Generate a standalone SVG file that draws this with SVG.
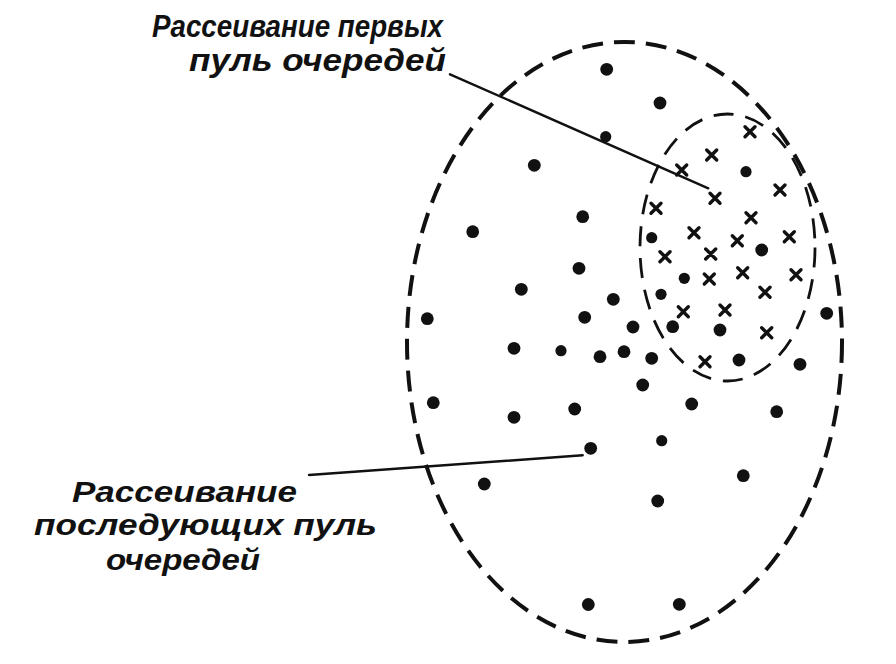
<svg xmlns="http://www.w3.org/2000/svg" width="896" height="664" viewBox="0 0 896 664">
<style>
.bg{fill:#ffffff}
.outer{fill:none;stroke:#111;stroke-width:4;stroke-dasharray:21 11;stroke-linecap:butt}
.inner{fill:none;stroke:#111;stroke-width:2.8;stroke-dasharray:20 12}
.lead{fill:none;stroke:#111;stroke-width:2.4;stroke-linecap:round}
.dot{fill:#111}
.x{fill:none;stroke:#111;stroke-width:3.4;stroke-linecap:round}
.lbl{font-family:"Liberation Sans","DejaVu Sans",sans-serif;font-style:italic;font-weight:bold;font-size:31px;fill:#111}
.lbl2{font-size:29px}
</style>
<defs>
<circle id="d" r="6.4" class="dot"/>
<circle id="ds" r="5.6" class="dot"/>
<path id="c" d="M-5,-5 L5,5 M5,-5 L-5,5" class="x"/>
</defs>
<rect class="bg" x="0" y="0" width="896" height="664"/>

<g id="outer-dispersion">
<ellipse class="outer" cx="624.5" cy="342" rx="217.5" ry="300"/>
<g id="outer-hits">
<use href="#d" x="606.7" y="69.3"/>
<use href="#d" x="660" y="103"/>
<use href="#ds" x="605.7" y="136.7"/>
<use href="#d" x="534.3" y="165.3"/>
<use href="#d" x="582.7" y="216.7"/>
<use href="#d" x="472.7" y="231.7"/>
<use href="#d" x="579" y="268.3"/>
<use href="#d" x="521.3" y="289.3"/>
<use href="#d" x="613.3" y="299.3"/>
<use href="#d" x="427.3" y="318.7"/>
<use href="#d" x="584.7" y="317.3"/>
<use href="#d" x="633" y="327"/>
<use href="#d" x="514" y="348.3"/>
<use href="#ds" x="561" y="350.7"/>
<use href="#d" x="600" y="356.7"/>
<use href="#d" x="624" y="351.7"/>
<use href="#d" x="651.7" y="358.3"/>
<use href="#d" x="642.7" y="385"/>
<use href="#d" x="433.3" y="402.7"/>
<use href="#d" x="514" y="417.3"/>
<use href="#d" x="574.7" y="409"/>
<use href="#d" x="691.7" y="404"/>
<use href="#d" x="776.7" y="411.7"/>
<use href="#d" x="590.7" y="448.3"/>
<use href="#ds" x="661.7" y="440.7"/>
<use href="#d" x="743.3" y="475.7"/>
<use href="#d" x="484.3" y="484"/>
<use href="#d" x="657.7" y="501"/>
<use href="#d" x="588.3" y="604.5"/>
<use href="#d" x="679.3" y="604.3"/>
<use href="#d" x="826.7" y="313.3"/>
<use href="#d" x="800" y="364.3"/>
<use href="#d" x="739" y="360"/>
<use href="#d" x="720" y="330"/>
<use href="#d" x="672.7" y="326.7"/>
</g>
</g>

<g id="inner-dispersion">
<ellipse class="inner" cx="727.5" cy="247.5" rx="87.5" ry="133.5"/>
<g id="inner-hits">
<use href="#c" x="750" y="131.7"/>
<use href="#c" x="711.7" y="155"/>
<use href="#c" x="681.7" y="170"/>
<use href="#ds" x="746" y="171.7"/>
<use href="#c" x="780" y="190"/>
<use href="#c" x="715" y="198.3"/>
<use href="#c" x="656" y="208.3"/>
<use href="#c" x="751" y="217.7"/>
<use href="#c" x="694" y="232.7"/>
<use href="#ds" x="651.7" y="237.7"/>
<use href="#c" x="737.3" y="240.7"/>
<use href="#c" x="789.3" y="236.7"/>
<use href="#d" x="761.7" y="250"/>
<use href="#c" x="665" y="256.7"/>
<use href="#c" x="710.7" y="254"/>
<use href="#ds" x="684.3" y="278.3"/>
<use href="#c" x="709.3" y="279"/>
<use href="#c" x="742.7" y="272.7"/>
<use href="#c" x="796" y="274.7"/>
<use href="#ds" x="661" y="294.3"/>
<use href="#c" x="765" y="292.3"/>
<use href="#c" x="683.3" y="311.7"/>
<use href="#c" x="725" y="310"/>
<use href="#c" x="766.7" y="332.7"/>
<use href="#c" x="705" y="361.7"/>
</g>
</g>

<g id="connectors">
<path class="lead" d="M450,74.3 L708.3,188.3"/>
<path class="lead" d="M309,475 L582.7,455.3"/>
</g>

<g id="label-first">
<text class="lbl" x="152" y="37" textLength="291" lengthAdjust="spacingAndGlyphs">Рассеивание первых</text>
<text class="lbl" x="189" y="71" textLength="257" lengthAdjust="spacingAndGlyphs">пуль очередей</text>
</g>

<g id="label-subsequent">
<text class="lbl lbl2" x="72" y="502" textLength="225" lengthAdjust="spacingAndGlyphs">Рассеивание</text>
<text class="lbl lbl2" x="34" y="535" textLength="343" lengthAdjust="spacingAndGlyphs">последующих пуль</text>
<text class="lbl lbl2" x="106" y="570" textLength="154" lengthAdjust="spacingAndGlyphs">очередей</text>
</g>
</svg>
